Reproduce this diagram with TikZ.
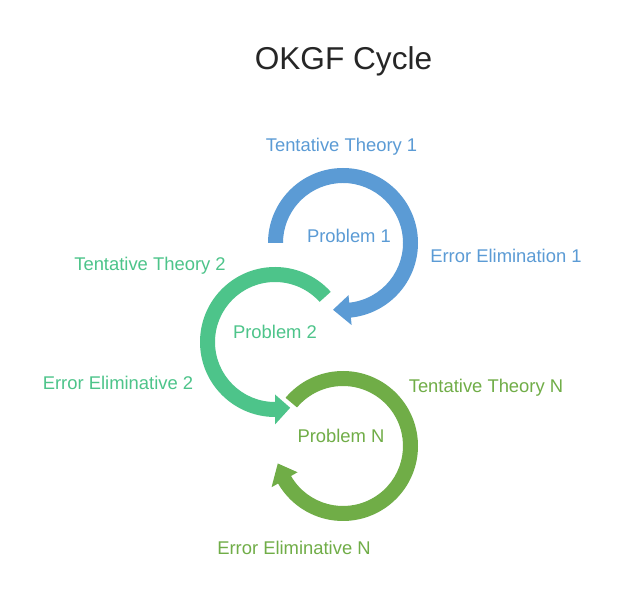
\documentclass[tikz,border=0pt]{standalone}
\usepackage{fontspec}
\setmainfont{Liberation Sans}
\usetikzlibrary{calc}
\definecolor{cblue}{RGB}{91,155,213}
\definecolor{cteal}{RGB}{77,196,138}
\definecolor{cgreen}{RGB}{112,173,71}
\definecolor{ctitle}{RGB}{38,38,38}
\tikzset{
  lbl/.style={anchor=base,inner sep=0pt,font=\fontsize{18.4}{21}\selectfont},
  ttl/.style={anchor=base,inner sep=0pt,font=\fontsize{31.6}{36}\selectfont,text=ctitle}
}
\begin{document}
\begin{tikzpicture}[x=1pt,y=1pt]
\useasboundingbox (0,0) rectangle (627,603);
\fill[white] (0,0) rectangle (627,603);
\coordinate (c1) at (343,360);
\coordinate (c2) at (275,261);
\coordinate (c3) at (343,157);
% blue ring
\fill[cblue] ($(c1)+(180:75)$) arc[start angle=180,end angle=-84,radius=75]
  -- ($(c1)+(-84:82.5)$) -- ($(c1)+(-98.5:67.5)$) -- ($(c1)+(-84:52.5)$)
  -- ($(c1)+(-84:60)$) arc[start angle=-84,end angle=180,radius=60] -- cycle;
% teal ring
\fill[cteal] ($(c2)+(42:75)$) arc[start angle=42,end angle=270,radius=75]
  -- ($(c2)+(270:82.5)$) -- ($(c2)+(283:67.5)$) -- ($(c2)+(270:52.5)$)
  -- ($(c2)+(270:60)$) arc[start angle=270,end angle=42,radius=60] -- cycle;
% green ring
\fill[cgreen] ($(c3)+(140:75)$) arc[start angle=140,end angle=-150,radius=75]
  -- ($(c3)+(-150:82.5)$) -- ($(c3)+(-165:67.5)$) -- ($(c3)+(-150:52.5)$)
  -- ($(c3)+(-150:60)$) arc[start angle=-150,end angle=140,radius=60] -- cycle;
% texts
\node[ttl] (title) at (343.5,533) {OKGF Cycle};
\node[lbl,text=cblue] (tt1) at (341.5,451.5) {Tentative Theory 1};
\node[lbl,text=cblue] (p1) at (349,360.5) {Problem 1};
\node[lbl,text=cblue] (ee1) at (506,340.5) {Error Elimination 1};
\node[lbl,text=cteal] (tt2) at (150,332.5) {Tentative Theory 2};
\node[lbl,text=cteal] (p2) at (275,264.5) {Problem 2};
\node[lbl,text=cteal] (ee2) at (118,213.5) {Error Eliminative 2};
\node[lbl,text=cgreen] (ttn) at (486,210.5) {Tentative Theory N};
\node[lbl,text=cgreen] (pn) at (341,160.5) {Problem N};
\node[lbl,text=cgreen] (een) at (294,48.5) {Error Eliminative N};
\end{tikzpicture}
\end{document}
